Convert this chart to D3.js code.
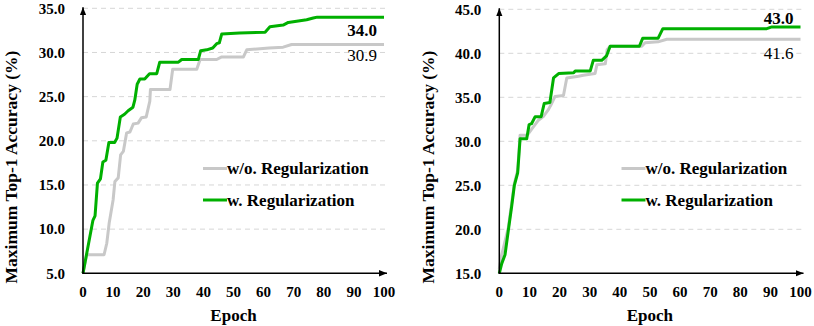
<!DOCTYPE html>
<html><head><meta charset="utf-8">
<script src="https://cdn.jsdelivr.net/npm/d3@7"></script>
<style>
html,body{margin:0;padding:0;background:#fff;}
svg text{font-family:"Liberation Serif","Times New Roman",serif;}
</style></head>
<body><svg id="c" width="814" height="326"></svg>
<script>
const xTicks = [0,10,20,30,40,50,60,70,80,90,100];
const legendLabels = ["w/o. Regularization","w. Regularization"];

// Left panel
const leftYTicks = [5,10,15,20,25,30,35];
const leftGrayEpochs = [0,1.2,7.0,7.9,8.7,10.0,10.6,11.7,12.5,13.4,14.5,15.6,16.7,18.3,19.4,21.0,22.2,22.4,28.9,29.8,37.8,38.9,44.4,46.1,53.3,54.4,61.8,66.5,69.3,100];
const leftGrayValues = [5.0,7.1,7.1,8.4,10.7,13.3,15.4,15.8,18.4,18.8,20.9,21.0,21.9,22.0,22.6,22.7,24.5,25.8,25.8,28.1,28.1,29.2,29.2,29.5,29.5,30.3,30.5,30.6,30.9,30.9];
const leftGreenEpochs = [0,3.3,4.0,4.8,5.8,6.6,7.6,8.6,10.5,11.3,12.4,13.8,15.0,16.6,17.2,18.0,18.9,20.5,22.1,24.5,25.5,31.7,32.8,38.3,39.1,41.1,43.1,44.4,45.3,46.1,52.0,60.5,62.1,66.5,68.2,74.3,76.5,77.8,100];
const leftGreenValues = [5.0,11.0,11.5,15.2,15.7,17.6,17.8,19.8,19.8,20.3,22.7,23.0,23.4,23.8,24.6,26.4,27.0,27.0,27.6,27.6,28.9,28.9,29.2,29.2,30.2,30.3,30.5,31.0,31.1,32.1,32.2,32.3,32.9,33.1,33.4,33.7,33.9,34.0,34.0];
const leftFinal = ["34.0","30.9"];

// Right panel
const rightYTicks = [15,20,25,30,35,40,45];
const rightGrayEpochs = [0,0.8,3.0,5.0,6.1,6.9,9.3,11.0,13.0,14.6,16.3,17.4,18.5,21.3,22.4,26.3,27.9,31.8,32.4,35.2,35.8,36.8,47.3,48.4,52.7,55.6,100];
const rightGrayValues = [15.5,17.1,20.2,25.2,26.7,30.7,30.7,31.5,32.4,32.8,33.6,34.3,35.1,35.2,37.2,37.4,37.5,37.7,38.7,38.8,40.4,40.8,40.8,41.2,41.3,41.6,41.6];
const rightGreenEpochs = [0,0.8,1.9,3.0,4.1,5.0,6.1,6.9,9.1,9.9,10.7,11.9,13.9,14.9,16.8,18.0,19.7,24.7,25.2,30.2,31.2,34.0,35.6,36.8,46.5,47.6,52.7,54.3,88.8,90.5,100];
const rightGreenValues = [15.0,16.1,17.1,19.9,22.6,25.0,26.4,30.3,30.3,31.9,32.0,32.8,32.8,34.3,34.4,37.2,37.7,37.8,38.0,38.0,39.2,39.2,39.7,40.8,40.8,41.7,41.7,42.8,42.8,43.0,43.0];
const rightFinal = ["43.0","41.6"];

const GRAY = "#c8c8c8", GREEN = "#00b000";
const svg = d3.select("#c");
const defs = svg.append("defs");
defs.append("marker").attr("id","arr").attr("viewBox","0 0 10 10").attr("refX",10).attr("refY",5)
  .attr("markerWidth",8).attr("markerHeight",8).attr("markerUnits","userSpaceOnUse").attr("orient","auto")
  .append("path").attr("d","M0,1 L10,5 L0,9 Z").attr("fill","#000");

function panel(cfg){
  const x = d3.scaleLinear().domain([0,100]).range([cfg.x0, cfg.x1]);
  const y = d3.scaleLinear().domain([cfg.yTicks[0], cfg.yTicks[cfg.yTicks.length-1]]).range([273.3, cfg.yTop]);
  const g = svg.append("g");
  g.selectAll("line.grid").data(cfg.yTicks.slice(1)).join("line")
    .attr("x1", x(0)).attr("x2", x(100)+2).attr("y1", d=>y(d)).attr("y2", d=>y(d))
    .attr("stroke","#d6d6d6").attr("stroke-width",1).attr("stroke-dasharray","5,4");
  g.selectAll("text.yt").data(cfg.yTicks).join("text")
    .attr("x", x(0)-18).attr("y", d=>y(d)).attr("dy","0.35em").attr("text-anchor","end")
    .attr("font-size","15px").attr("font-weight","bold").text(d=>d3.format(".1f")(d));
  g.selectAll("text.xt").data(xTicks).join("text")
    .attr("x", d=>x(d)).attr("y", 297).attr("text-anchor","middle")
    .attr("font-size","15px").attr("font-weight","bold").text(d=>d);
  const line = d3.line().x(d=>x(d[0])).y(d=>y(d[1]));
  const gray = cfg.grayE.map((e,i)=>[e,cfg.grayV[i]]);
  const green = cfg.greenE.map((e,i)=>[e,cfg.greenV[i]]);
  g.append("path").datum(gray).attr("d",line).attr("fill","none").attr("stroke",GRAY).attr("stroke-width",3).attr("stroke-linejoin","round");
  g.append("path").datum(green).attr("d",line).attr("fill","none").attr("stroke",GREEN).attr("stroke-width",3).attr("stroke-linejoin","round");
  g.append("line").attr("x1",x(0)).attr("x2",x(0)).attr("y1",y.range()[0]+0.5).attr("y2",y.range()[1]-1)
    .attr("stroke","#000").attr("stroke-width",1.5).attr("marker-end","url(#arr)");
  g.append("line").attr("x1",x(0)-0.7).attr("x2",x(100)+3).attr("y1",y.range()[0]).attr("y2",y.range()[0])
    .attr("stroke","#000").attr("stroke-width",1.5).attr("marker-end","url(#arr)");
  g.append("text").attr("x", x(100)-7).attr("y", cfg.fy[0]).attr("text-anchor","end")
    .attr("font-size","17px").attr("font-weight","bold").text(cfg.final[0]);
  g.append("text").attr("x", x(100)-7).attr("y", cfg.fy[1]).attr("text-anchor","end")
    .attr("font-size","17px").text(cfg.final[1]);
  const lx = cfg.legX;
  [[GRAY,168.5],[GREEN,200]].forEach((c,i)=>{
    g.append("line").attr("x1",lx).attr("x2",lx+24).attr("y1",c[1]).attr("y2",c[1]).attr("stroke",c[0]).attr("stroke-width",3);
    g.append("text").attr("x",lx+24).attr("y",c[1]).attr("dy","0.33em").attr("font-size","17px").attr("font-weight","bold").text(legendLabels[i]);
  });
  g.append("text").attr("x",(x(0)+x(100))/2).attr("y",321).attr("text-anchor","middle")
    .attr("font-size","17px").attr("font-weight","bold").text("Epoch");
  g.append("text").attr("transform",`translate(${cfg.ylabX},167) rotate(-90)`).attr("text-anchor","middle")
    .attr("font-size","17.5px").attr("font-weight","bold").text("Maximum Top-1 Accuracy (%)");
}

panel({x0:83, x1:384, yTop:8.3, yTicks:leftYTicks, grayE:leftGrayEpochs, grayV:leftGrayValues,
  greenE:leftGreenEpochs, greenV:leftGreenValues, final:leftFinal, fy:[36,61], legX:203, ylabX:17});
panel({x0:499.3, x1:800.5, yTop:9.3, yTicks:rightYTicks, grayE:rightGrayEpochs, grayV:rightGrayValues,
  greenE:rightGreenEpochs, greenV:rightGreenValues, final:rightFinal, fy:[24,59], legX:621.5, ylabX:434});
</script></body></html>
